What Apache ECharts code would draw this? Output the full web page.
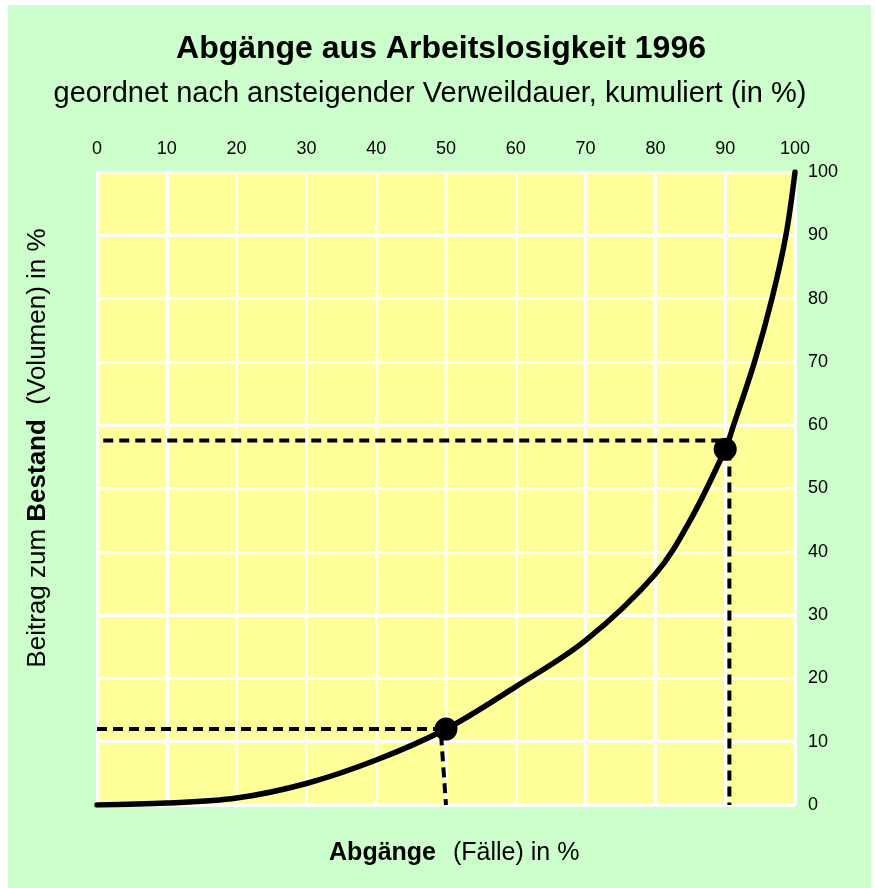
<!DOCTYPE html>
<html>
<head>
<meta charset="utf-8">
<script src="https://cdn.jsdelivr.net/npm/echarts@6/dist/echarts.min.js"></script>
<style>
html,body{margin:0;padding:0;background:#ffffff;}
#bg{position:absolute;left:8px;top:5px;width:863px;height:883px;background:#ccffcc;}
#chart{position:absolute;left:0;top:0;width:875px;height:888px;}
</style>
</head>
<body>
<div id="bg"></div>
<div id="chart"></div>
<script>
// Data
const curveX = [0, 10, 20, 30, 40, 50, 60, 70, 80, 85, 90, 91.2, 94.2, 96.7, 98.7, 100];
const curveY = [0, 0.3, 1.1, 3.4, 7.1, 12, 18.7, 26.0, 36.5, 45.0, 56.2, 60, 70, 80, 90, 100];
const markX = [50, 90];
const markY = [12, 56.2];
const dashH1 = [[0, 12], [50, 12]];
const dashV1 = [[49.3, 11], [50, 0]];
const dashH2 = [[0.9, 57.6], [90, 57.6]];
const dashV2 = [[90.6, 56], [90.6, 0]];
const xTicks = [0, 10, 20, 30, 40, 50, 60, 70, 80, 90, 100];
const yTicks = [0, 10, 20, 30, 40, 50, 60, 70, 80, 90, 100];

const FONT = "'Liberation Sans', Arial, sans-serif";
const chart = echarts.init(document.getElementById('chart'), null, {renderer: 'canvas'});
const dashStyle = {color: '#000', width: 4, type: [10, 6]};

const option = {
  backgroundColor: 'transparent',
  animation: false,
  grid: {left: 97, top: 172, width: 698, height: 633, show: true, backgroundColor: '#ffff99', borderWidth: 0},
  xAxis: {
    type: 'value', position: 'top', min: 0, max: 100, interval: 10,
    axisLine: {show: false}, axisTick: {show: false},
    axisLabel: {color: '#000', fontSize: 18, fontFamily: FONT, margin: 14,
      formatter: v => xTicks.includes(v) ? String(v) : ''},
    splitLine: {show: true, lineStyle: {color: '#ffffff', width: 3}}
  },
  yAxis: {
    type: 'value', position: 'right', min: 0, max: 100, interval: 10,
    axisLine: {show: false}, axisTick: {show: false},
    axisLabel: {color: '#000', fontSize: 18, fontFamily: FONT, margin: 13,
      formatter: v => yTicks.includes(v) ? String(v) : ''},
    splitLine: {show: true, lineStyle: {color: '#ffffff', width: 3}}
  },
  graphic: [
    {type: 'text', x: 441, y: 49, style: {text: 'Abgänge aus Arbeitslosigkeit 1996', font: 'bold 32px ' + FONT, fill: '#000', align: 'center', verticalAlign: 'middle'}},
    {type: 'text', x: 430, y: 94, style: {text: 'geordnet nach ansteigender Verweildauer, kumuliert (in %)', font: '29px ' + FONT, fill: '#000', align: 'center', verticalAlign: 'middle'}},
    {type: 'text', x: 436, y: 853, style: {text: 'Abgänge', font: 'bold 25px ' + FONT, fill: '#000', align: 'right', verticalAlign: 'middle'}},
    {type: 'text', x: 453, y: 853, style: {text: '(Fälle) in %', font: '25px ' + FONT, fill: '#000', align: 'left', verticalAlign: 'middle'}},
    {type: 'text', x: 38, y: 448, rotation: Math.PI / 2, style: {
      text: '{n|Beitrag zum }{b|Bestand}{n|  (Volumen) in %}', align: 'center', verticalAlign: 'middle',
      rich: {b: {font: 'bold 26px ' + FONT, fill: '#000'}, n: {font: '26px ' + FONT, fill: '#000'}}}}
  ],
  series: [
    {type: 'line', data: dashH1, symbol: 'none', lineStyle: dashStyle, z: 3},
    {type: 'line', data: dashV1, symbol: 'none', lineStyle: dashStyle, z: 3},
    {type: 'line', data: dashH2, symbol: 'none', lineStyle: dashStyle, z: 3},
    {type: 'line', data: dashV2, symbol: 'none', lineStyle: dashStyle, z: 3},
    {type: 'line', data: curveX.map((x, i) => [x, curveY[i]]), symbol: 'none', smooth: 0.35,
      lineStyle: {color: '#000', width: 5.5, cap: 'round'}, z: 4},
    {type: 'scatter', data: markX.map((x, i) => [x, markY[i]]), symbol: 'circle', symbolSize: 23,
      itemStyle: {color: '#000', opacity: 1}, z: 5}
  ]
};
chart.setOption(option);
</script>
</body>
</html>
